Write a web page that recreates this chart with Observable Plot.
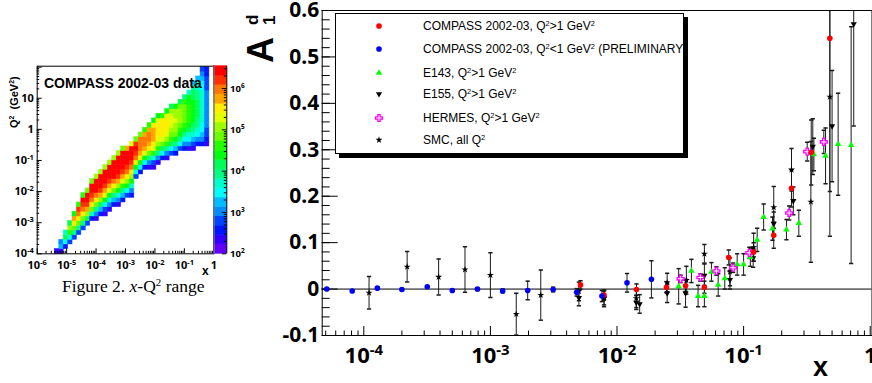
<!DOCTYPE html>
<html><head><meta charset="utf-8">
<script src="https://cdn.jsdelivr.net/npm/d3@7"></script>
<script src="https://cdn.jsdelivr.net/npm/@observablehq/plot@0.6"></script>
<style>
html,body{margin:0;padding:0;background:#fff;}
#page{position:relative;width:872px;height:383px;overflow:hidden;font-family:"Liberation Sans",Arial,sans-serif;}
#page > *{position:absolute;}
#legend{left:335px;top:13px;width:347px;height:139px;border:1px solid #000;background:#fff;box-shadow:4px 4px 0 #000;font-size:12px;}
#legend .row{position:absolute;left:0;height:16px;width:100%;}
#legend .row svg{position:absolute;left:36px;top:1px;}
#legend .row span{position:absolute;left:87px;top:0;white-space:nowrap;line-height:16px;}
sup{font-size:0.62em;vertical-align:0.55em;line-height:0;}
#caption{left:62px;top:276px;font-family:"Liberation Serif","Times New Roman",serif;font-size:17.5px;white-space:nowrap;}
.rot{transform:rotate(-90deg);transform-origin:0 0;white-space:nowrap;font-weight:bold;}
#ytitle{left:243px;top:63px;line-height:36px;}
#xtitle{left:813px;top:352px;font-weight:bold;font-size:27px;}
#q2title{left:7px;top:128px;font-size:11px;line-height:14px;}
#hmx{left:202px;top:264px;font-weight:bold;font-size:12px;}
#hmtitle{left:44px;top:75px;font-weight:bold;font-size:14px;white-space:nowrap;}
</style></head><body><div id="page"></div>
<script>
// ================= DATA =================
// Left panel: COMPASS x-Q2 event density, one string per x bin (0.15 decade wide,
// starting at x=1e-6). Each character is the colour level (0..19) of a Q2 bin
// (0.15 decade tall, starting at Q2=1e-4), from heatRow0 upwards.
const LEVEL_CHARS = "0123456789ABCDEFGHIJ";
const heatColumn = [4,5,6,7,8,9,10,11,12,13,14,15,16,17,18,19,20,21,22,23,24,25,26,27,28,29,30,31,32,33,34,35,36,37,38];
const heatRow0   = [0,0,1,2,3,4,5,6,7,7,8,8,9,10,10,11,12,12,16,17,18,18,18,19,20,20,21,21,22,22,22,22,23,23,23];
const heatLevels = [
  "1","154","2697","37BD9","38CFGA","38CFHIB","38CFHIJB","39DGIJJC","27CFHIJJC",
  "148CFHJJJD","259DGIJJJD","136AEGIJJJD","147AEGIJJJD","258CFHJJJJD","147ADGIJJJJD",
  "258BEGIJJJJC","36ADFHIJJJG","247ADFHIJJJE","36AEHIJIC","26AEGHHHC","26AEGHHGB",
  "148CFGHHGB","137BEFGGGFA","148BDEFFFEA","269CEFFFFB","148BDEFFFEA","369BCDEEED9",
  "258ACDDEDDA","368ABCDDDC9","2468ABCCCCB8","14679ABBBBAA7","135789AAAAA9985",
  "246788999988775","24566777777766543","12334444444433322"
];
const heatBinDecades = 0.15;
const heatXTicks = [1e-6,1e-5,1e-4,1e-3,1e-2,1e-1,1];
const heatYTicks = [1e-4,1e-3,1e-2,1e-1,1,10];
const countMin = 100, countMax = Math.pow(10, 6.54);
const countTicks = [1e2,1e3,1e4,1e5,1e6];

// Right panel: A1^d vs x
const compassHighX   = [0.00515,0.0079,0.01425,0.0246,0.0348,0.049,0.0763,0.12,0.173,0.239,0.342,0.48];
const compassHighA   = [0.009,-0.013,-0.001,0.004,0.007,0.004,0.068,0.08,0.116,0.217,0.294,0.54];
const compassHighErr = [0.009,0.010,0.012,0.012,0.012,0.013,0.016,0.02,0.028,0.04,0.07,0.33];

const compassLowX   = [5.1e-5,8.1e-5,1.28e-4,2.0e-4,3.17e-4,5.0e-4,7.9e-4,1.25e-3,1.97e-3,3.13e-3,4.8e-3,7.6e-3,0.012,0.0187];
const compassLowA   = [0.0,-0.004,0.002,-0.001,0.005,-0.003,0.0,-0.004,-0.003,-0.001,-0.007,-0.015,0.0135,0.021];
const compassLowErr = [0.002,0.002,0.002,0.002,0.002,0.002,0.003,0.004,0.02,0.005,0.008,0.012,0.02,0.04];

const e143X   = [0.0307,0.0387,0.0437,0.049,0.0557,0.063,0.071,0.089,0.1,0.113,0.128,0.144,0.169,0.218,0.273,0.359,0.444,0.558,0.707];
const e143A   = [0.006,0.039,-0.015,-0.015,0.037,0.009,0.023,0.053,0.053,0.069,0.106,0.155,0.13,0.128,0.142,0.29,0.287,0.312,0.31];
const e143Err = [0.038,0.025,0.023,0.023,0.02,0.024,0.023,0.023,0.023,0.02,0.025,0.028,0.025,0.022,0.028,0.035,0.06,0.11,0.255];

const e155X   = [0.005,0.0079,0.0142,0.0151,0.0249,0.0348,0.049,0.078,0.119,0.173,0.247,0.352,0.5,0.741];
const e155A   = [-0.019,-0.019,-0.029,-0.032,-0.009,-0.009,0.029,0.02,0.067,0.141,0.19,0.307,0.351,0.571];
const e155Err = [0.017,0.015,0.015,0.02,0.02,0.03,0.025,0.02,0.02,0.025,0.03,0.06,0.12,0.22];

const hermesX   = [0.0318,0.0456,0.061,0.0826,0.111,0.229,0.318,0.43];
const hermesA   = [0.022,0.025,0.039,0.046,0.078,0.164,0.296,0.317];
const hermesErr = [0.008,0.008,0.009,0.01,0.012,0.015,0.02,0.025];

const smcX   = [1.1e-4,2.2e-4,3.9e-4,6.3e-4,1.0e-3,1.6e-3,2.5e-3,5.0e-3,7.9e-3,0.0142,0.0249,0.0353,0.049,0.078,0.12,0.173,0.239,0.34,0.48];
const smcA   = [-0.008,0.048,0.026,0.042,0.03,-0.054,-0.013,-0.005,-0.02,-0.02,0.014,0.019,0.076,0.037,0.09,0.176,0.257,0.188,0.414];
const smcErr = [0.035,0.033,0.039,0.049,0.048,0.045,0.054,0.02,0.018,0.02,0.02,0.03,0.02,0.03,0.03,0.045,0.046,0.13,0.3];

const xTicks = [1e-4,1e-3,1e-2,1e-1,1];
const yTicks = [-0.1,0,0.1,0.2,0.3,0.4,0.5,0.6];

// ================= HELPERS =================
const page = document.getElementById("page");
const palette = d3.range(20).map(k => d3.hsl(280 - 5.6*(Math.floor((k+0.99)*2.5)+1), 1, 0.5).formatHex());
const levelCount = k => countMin * Math.pow(countMax/countMin, (k+0.5)/20);
const thresholds = d3.range(1,20).map(k => countMin * Math.pow(countMax/countMin, k/20));
const minorLog = (lo, hi) => { const out=[]; for (let e=lo; e<hi; e++) for (let m=2;m<=9;m++) out.push(m*Math.pow(10,e)); return out; };
const pow10Label = d => { const e = Math.round(Math.log10(d)); return e === 0 ? "1" : e === 1 ? "10" : "10^" + e; };
function supify(svg){
  svg.querySelectorAll("text").forEach(t => {
    const s = t.textContent; const m = s.match(/^(.*)\^(.*)$/);
    if (!m) return;
    t.textContent = m[1];
    const sp = document.createElementNS("http://www.w3.org/2000/svg","tspan");
    sp.setAttribute("font-size","0.68em"); sp.setAttribute("dy","-0.55em");
    sp.textContent = m[2]; t.appendChild(sp);
  });
}
function place(el, left, top){ el.style.position="absolute"; el.style.left=left+"px"; el.style.top=top+"px"; page.appendChild(el); }

// ================= LEFT: HEATMAP =================
const cells = [];
heatColumn.forEach((c, n) => {
  const s = heatLevels[n];
  for (let r = 0; r < s.length; r++) {
    const k = LEVEL_CHARS.indexOf(s[r]); if (k < 0) continue;
    const j = heatRow0[n] + r;
    cells.push({x1: Math.pow(10,-6+heatBinDecades*c), x2: Math.pow(10,-6+heatBinDecades*(c+1)),
                y1: Math.pow(10,-4+heatBinDecades*j), y2: Math.pow(10,-4+heatBinDecades*(j+1)), count: levelCount(k)});
  }
});
const HM = {w:250, h:280, ml:36.7, mr:36.7, mt:65.7, mb:26.7};
const hmFW = HM.w-HM.ml-HM.mr, hmFH = HM.h-HM.mt-HM.mb;
const heat = Plot.plot({
  width:HM.w, height:HM.h, marginLeft:HM.ml, marginRight:HM.mr, marginTop:HM.mt, marginBottom:HM.mb,
  style:{background:"transparent", overflow:"visible"},
  x:{type:"log", domain:[1e-6,1], axis:null},
  y:{type:"log", domain:[1e-4, Math.pow(10,2.03)], axis:null},
  color:{type:"threshold", domain:thresholds, range:palette},
  marks:[
    Plot.rect(cells,{x1:"x1",x2:"x2",y1:"y1",y2:"y2",fill:"count",stroke:"count",strokeWidth:0.5}),
    Plot.tickX(minorLog(-6,0),{x:d=>d, stroke:"#000", insetTop:hmFH-2.5}),
    Plot.tickX(heatXTicks,{x:d=>d, stroke:"#000", insetTop:hmFH-5}),
    Plot.tickY(minorLog(-4,3).filter(v=>v<Math.pow(10,2.03)),{y:d=>d, stroke:"#000", insetRight:hmFW-2.5}),
    Plot.tickY([...heatYTicks,100],{y:d=>d, stroke:"#000", insetRight:hmFW-5}),
    Plot.frame({stroke:"#000"}),
    Plot.axisX(heatXTicks,{label:null, tickSize:0, tickPadding:7.5, fontSize:11, fontWeight:"bold", tickFormat:pow10Label, fill:"#000"}),
    Plot.axisY(heatYTicks,{label:null, tickSize:0, tickPadding:3.4, fontSize:11, fontWeight:"bold", tickFormat:pow10Label, fill:"#000"})
  ]
});
supify(heat);
place(heat, 0, 0);

// colour bar
const bands = d3.range(20).map(k => ({y1: countMin*Math.pow(countMax/countMin,k/20), y2: countMin*Math.pow(countMax/countMin,(k+1)/20), c: levelCount(k)}));
const CB = {w:50, h:280, ml:0.6, mr:50-13.3, mt:65.7, mb:26.7};
const cbar = Plot.plot({
  width:CB.w, height:CB.h, marginLeft:CB.ml, marginRight:CB.mr, marginTop:CB.mt, marginBottom:CB.mb,
  style:{background:"transparent", overflow:"visible"},
  x:{domain:[0,1], axis:null},
  y:{type:"log", domain:[countMin,countMax], axis:null},
  color:{type:"threshold", domain:thresholds, range:palette},
  marks:[
    Plot.rect(bands,{x1:0,x2:1,y1:"y1",y2:"y2",fill:"c",stroke:"c",strokeWidth:0.5}),
    Plot.tickY(minorLog(2,7).filter(v=>v<countMax),{y:d=>d, stroke:"#000", insetLeft:12.7-2.5}),
    Plot.tickY(countTicks,{y:d=>d, stroke:"#000", insetLeft:12.7-4.5}),
    Plot.ruleX([0],{stroke:"#777", strokeWidth:1.2}),
    Plot.ruleX([1],{stroke:"#000"}),
    Plot.axisY(countTicks,{label:null, anchor:"right", tickSize:0, tickPadding:3.3, fontSize:9.5, fontWeight:"bold", tickFormat:d => "10^" + Math.round(Math.log10(d)), fill:"#000"})
  ]
});
supify(cbar);
place(cbar, 213, 0);

const hmTitle = document.createElement("div"); hmTitle.id="hmtitle"; hmTitle.textContent = "COMPASS 2002-03 data"; page.appendChild(hmTitle);
const q2 = document.createElement("div"); q2.id="q2title"; q2.className="rot"; q2.innerHTML = "Q<sup>2</sup> &nbsp;(GeV<sup>2</sup>)"; page.appendChild(q2);
const hmx = document.createElement("div"); hmx.id="hmx"; hmx.textContent="x"; page.appendChild(hmx);
const cap = document.createElement("div"); cap.id="caption"; cap.innerHTML = "Figure 2. <i>x</i>-Q<sup>2</sup> range"; page.appendChild(cap);

// ================= RIGHT: A1^d =================
const RP = {left:240, w:632, h:383, ml:81.7, mr:0.5, mt:10, mb:48};
const rpFW = RP.w-RP.ml-RP.mr, rpFH = RP.h-RP.mt-RP.mb;
const pts = (xs, as, es) => xs.map((x,i)=>({x, a:as[i], lo:as[i]-es[i], hi:as[i]+es[i]}));
const dHigh = pts(compassHighX, compassHighA, compassHighErr);
const dLow = pts(compassLowX, compassLowA, compassLowErr);
const dE143 = pts(e143X, e143A, e143Err);
const dE155 = pts(e155X, e155A, e155Err);
const dHer = pts(hermesX, hermesA, hermesErr);
const dSmc = pts(smcX, smcA, smcErr);
const allErr = [...dHigh, ...dLow, ...dE143, ...dE155, ...dHer, ...dSmc];
const capSym = {draw(ctx, size){ const w = Math.sqrt(size)/2; ctx.moveTo(-w,0); ctx.lineTo(w,0); }};
const minorY = d3.range(-0.1, 0.6001, 0.02).map(v=>+v.toFixed(2));
const right = Plot.plot({
  width:RP.w, height:RP.h, marginLeft:RP.ml, marginRight:RP.mr, marginTop:RP.mt, marginBottom:RP.mb,
  style:{background:"transparent", overflow:"visible"},
  x:{type:"log", domain:[Math.pow(10,-4.3286), Math.pow(10,0.0142)], axis:null},
  y:{domain:[-0.1,0.6], axis:null},
  marks:[
    Plot.ruleY([0],{stroke:"#000", strokeWidth:1}),
    Plot.tickY(minorY,{y:d=>d, stroke:"#000", insetRight:rpFW-8}),
    Plot.tickY(yTicks,{y:d=>d, stroke:"#000", insetRight:rpFW-16}),
    Plot.tickX(minorLog(-5,0).filter(v=>v>Math.pow(10,-4.3286)),{x:d=>d, stroke:"#000", insetTop:rpFH-4.5}),
    Plot.tickX(xTicks,{x:d=>d, stroke:"#000", insetTop:rpFH-9}),
    Plot.ruleX(allErr,{x:"x", y1:"lo", y2:"hi", stroke:"#1a1a1a", strokeWidth:1, clip:true}),
    Plot.dot(allErr,{x:"x", y:"lo", symbol:capSym, r:2.4, stroke:"#1a1a1a", fill:"none", clip:true}),
    Plot.dot(allErr,{x:"x", y:"hi", symbol:capSym, r:2.4, stroke:"#1a1a1a", fill:"none", clip:true}),
    Plot.dot(dSmc,{x:"x", y:"a", symbol:"star", r:2.2, fill:"#000", stroke:"none"}),
    Plot.dot(dE155,{x:"x", y:"a", symbol:"triangle", rotate:180, r:2.3, fill:"#000", stroke:"none"}),
    Plot.dot(dE143,{x:"x", y:"a", symbol:"triangle", r:2.4, fill:"#00ff00", stroke:"none"}),
    Plot.dot(dHer,{x:"x", y:"a", symbol:"cross", r:2.9, fill:"#fff", stroke:"#ff00ff", strokeWidth:1.3}),
    Plot.dot(dHigh,{x:"x", y:"a", symbol:"circle", r:2.8, fill:"#ff0000", stroke:"none"}),
    Plot.dot(dLow,{x:"x", y:"a", symbol:"circle", r:2.8, fill:"#0000ff", stroke:"none"}),
    Plot.frame({stroke:"#000"}),
    Plot.axisX(xTicks,{label:null, tickSize:0, tickPadding:12, fontSize:22, fontWeight:"bold", tickFormat:pow10Label, fill:"#000"}),
    Plot.axisY(yTicks,{label:null, tickSize:0, tickPadding:3, fontSize:21, fontWeight:"bold", tickFormat:d=> d===0 ? "0" : d.toFixed(1), fill:"#000"})
  ]
});
supify(right);
place(right, RP.left, 0);

// legend
const legend = document.createElement("div"); legend.id="legend";
const legendRows = [
  {html:"COMPASS 2002-03, Q<sup>2</sup>&gt;1 GeV<sup>2</sup>", sym:d3.symbolCircle, size:25, fill:"#ff0000", stroke:"none"},
  {html:"COMPASS 2002-03, Q<sup>2</sup>&lt;1 GeV<sup>2</sup> (PRELIMINARY)", sym:d3.symbolCircle, size:25, fill:"#0000ff", stroke:"none"},
  {html:"E143, Q<sup>2</sup>&gt;1 GeV<sup>2</sup>", sym:d3.symbolTriangle, size:18, fill:"#00ff00", stroke:"none"},
  {html:"E155, Q<sup>2</sup>&gt;1 GeV<sup>2</sup>", sym:d3.symbolTriangle, size:17, fill:"#000", stroke:"none", rot:180},
  {html:"HERMES, Q<sup>2</sup>&gt;1 GeV<sup>2</sup>", sym:d3.symbolCross, size:26, fill:"#fff", stroke:"#ff00ff"},
  {html:"SMC, all Q<sup>2</sup>", sym:d3.symbolStar, size:15, fill:"#000", stroke:"none"}
];
const rowTops = [4, 27, 51, 72, 96, 118];
legendRows.forEach((r,i) => {
  const row = document.createElement("div"); row.className="row"; row.style.top = rowTops[i]+"px";
  const path = d3.symbol(r.sym, r.size)();
  row.innerHTML = `<svg width="14" height="14" viewBox="-7 -7 14 14"><path d="${path}" fill="${r.fill}" stroke="${r.stroke}" stroke-width="1.3" transform="rotate(${r.rot||0})"/></svg><span>${r.html}</span>`;
  legend.appendChild(row);
});
page.appendChild(legend);

const yt = document.createElement("div"); yt.id="ytitle"; yt.className="rot";
yt.innerHTML = '<span style="font-size:36px">A</span><span style="display:inline-block;vertical-align:top;line-height:17px;font-size:17px;margin-left:12px;position:relative;top:1px;text-align:left">d<br>1</span>';
page.appendChild(yt);
const xt = document.createElement("div"); xt.id="xtitle"; xt.textContent="x"; page.appendChild(xt);
</script></body></html>
